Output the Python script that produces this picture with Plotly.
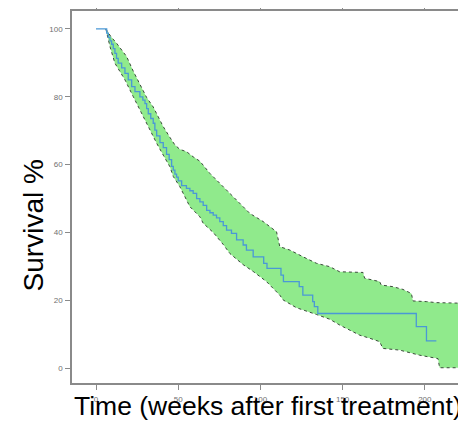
import plotly.graph_objects as go

# Kaplan-Meier estimate (weeks, survival %)
km_time = [0, 6.5, 7.5, 8.5, 9.5, 10.5, 11.5, 12.5, 13.5, 15.6, 17.6, 19.6, 21.7, 23.7, 26.7,
           28.5, 29.8, 30.8, 31.8, 33.3, 34.8, 35.8, 36.9, 38.9, 40.9, 42.9, 44.5, 46, 47, 48,
           49, 50, 52.1, 55, 57.1, 59.1, 61.2, 63.2, 65.2, 67.3, 69.3, 71.3, 73.3, 75.3, 77.4,
           79.4, 82.4, 85.5, 89.5, 91.5, 95.6, 102, 104, 112.5, 114, 123.6, 125.8, 131.8,
           132.8, 134.9, 194.8, 201, 207]
km_surv = [100, 98.8, 97.5, 96.5, 95.5, 94.2, 92.8, 91.3, 89.9, 88.5, 86.9, 85, 83, 81.5, 80,
           79, 78, 76.5, 75, 73.6, 72.2, 70.2, 68.5, 66.5, 65, 63, 61.5, 59.5, 58.4, 57.2,
           56.3, 55.2, 53.8, 53, 52.3, 51.5, 50, 49, 48, 46.5, 45.8, 45.1, 44.3, 43.2, 42,
           40.7, 39.7, 37.8, 36.3, 34.8, 32.8, 30.9, 29.4, 27.4, 25.5, 24, 21.5, 19.6,
           18.1, 16.1, 12.2, 8, 8]

# Upper confidence limit
up_time = [6, 9, 12.5, 15.5, 18.6, 22.7, 26.7, 30.8, 34.8, 37.9, 40.9, 45, 48, 51, 55.1, 59.1,
           63.2, 69.3, 75.3, 81.4, 87.5, 93.6, 101.7, 109.8, 111.8, 117.9, 126, 134.1, 142.2,
           148.2, 162.4, 163.4, 172.5, 173.5, 180.6, 186.7, 191.8, 192.8, 200.9, 207, 225]
up_surv = [100, 97.8, 95.8, 93.8, 91.9, 87.5, 83.5, 79.8, 77, 74, 71.2, 68, 65.8, 64.5, 63.8,
           62.3, 61, 57.4, 54.5, 51.5, 48.6, 45.6, 43.2, 40.2, 35.8, 34.8, 32.8, 30.9, 29.9,
           28.4, 28.2, 26.5, 25.5, 24.5, 24.0, 23.2, 22.0, 19.8, 19.6, 19.3, 19.1]

# Lower confidence limit
lo_time = [6, 8.5, 11.5, 14.5, 17.6, 22.7, 28.7, 32.8, 36.9, 40.9, 44.9, 47, 51, 57.1, 63.2,
           65.2, 71.3, 77.3, 81.4, 89.5, 95.6, 103.7, 111.8, 113.8, 121.9, 134.1, 142.2, 148.2,
           154.3, 160.4, 166.5, 172.5, 174.5, 184.7, 196.8, 208, 209, 225]
lo_surv = [100, 94.8, 89.9, 87.5, 85, 80, 74.1, 70.2, 66.3, 62.8, 59.4, 56.5, 53.5, 47.6, 44.6,
           42.7, 40, 36.5, 33.8, 30.5, 28.5, 25.5, 21.5, 20.1, 17.8, 15.8, 14.4, 12.7,
           11.2, 9.7, 8.8, 7.8, 5.8, 5.3, 3.8, 2.8, 0.1, 0.1]

x_ticks = [0, 50, 100, 150, 200]
y_ticks = [0, 20, 40, 60, 80, 100]

band_line = dict(color="#3b4a3b", width=1, dash="dot")

fig = go.Figure()
fig.add_trace(go.Scatter(x=lo_time, y=lo_surv, mode="lines", line=band_line,
                         hoverinfo="skip", showlegend=False))
fig.add_trace(go.Scatter(x=up_time, y=up_surv, mode="lines", line=band_line,
                         fill="tonexty", fillcolor="#90ea8c",
                         hoverinfo="skip", showlegend=False))
fig.add_trace(go.Scatter(x=km_time, y=km_surv, mode="lines", line_shape="hv",
                         line=dict(color="#4a98d6", width=1.3), showlegend=False))

axis_common = dict(showline=True, mirror="ticks", linecolor="#8a8a8a", linewidth=1.5,
                   ticks="outside", ticklen=5, tickcolor="#8a8a8a", tickwidth=1,
                   showgrid=False, zeroline=False, automargin=False,
                   tickfont=dict(family="Liberation Sans, Arial", size=8, color="#707070"))

fig.update_xaxes(range=[-14.6, 222], tickvals=x_ticks, ticktext=[str(v) for v in x_ticks],
                 ticklabelstandoff=3, **axis_common)
fig.update_yaxes(range=[-4.4, 105.3], tickvals=y_ticks, ticktext=[str(v) for v in y_ticks],
                 ticklabelstandoff=1, **axis_common)

fig.add_annotation(text="Survival %", xref="paper", yref="paper", x=-0.099, y=0.425,
                   xanchor="center", yanchor="middle", textangle=-90, showarrow=False,
                   font=dict(family="Liberation Sans, Arial", size=28, color="black"))
fig.add_annotation(text="Time (weeks after first treatment)", xref="paper", yref="paper",
                   x=0.504, y=-0.062, xanchor="center", yanchor="middle", showarrow=False,
                   font=dict(family="Liberation Sans, Arial", size=26.5, color="black"))

# the page places the figure 8px in from the top-left corner
fig.update_layout(width=458, height=421, margin=dict(l=64, r=5, t=3, b=46),
                  plot_bgcolor="white", paper_bgcolor="white")

fig.write_html("out.html")
